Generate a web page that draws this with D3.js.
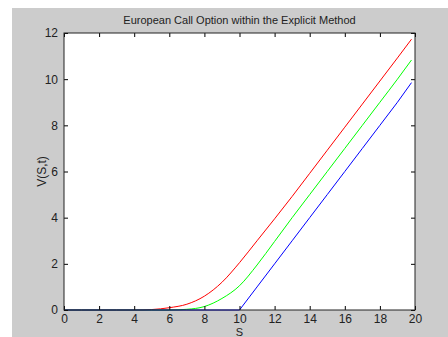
<!DOCTYPE html>
<html>
<head>
<meta charset="utf-8">
<script src="https://cdn.jsdelivr.net/npm/d3@7"></script>
<style>
  body { margin: 0; background: #fff; }
  svg { display: block; font-family: "Liberation Sans", Arial, sans-serif; }
</style>
</head>
<body>
<div id="chart"></div>
<script>
const sValues = [0, 1, 2, 3, 4, 5, 6, 7, 8, 9, 10, 11, 12, 13, 14, 15, 16, 17, 18, 19, 19.8];
const redValues = [0, 0, 0, 0, 0, 0.02, 0.1, 0.25, 0.6, 1.2, 2.05, 3.0, 3.95, 4.92, 5.92, 6.92, 7.92, 8.92, 9.92, 10.92, 11.73];
const greenValues = [0, 0, 0, 0, 0, 0, 0, 0.03, 0.15, 0.5, 1.05, 1.95, 2.97, 4.0, 5.0, 6.0, 7.0, 8.0, 9.0, 10.0, 10.83];
const blueValues = [0, 0, 0, 0, 0, 0, 0, 0, 0, 0, 0, 1.0, 2.0, 3.0, 4.0, 5.0, 6.0, 7.0, 8.0, 9.0, 9.85];
const xTicks = [0, 2, 4, 6, 8, 10, 12, 14, 16, 18, 20];
const yTicks = [0, 2, 4, 6, 8, 10, 12];

const series = [
  { name: "red", color: "#ff0000", values: redValues, curve: d3.curveMonotoneX },
  { name: "green", color: "#00ff00", values: greenValues, curve: d3.curveMonotoneX },
  { name: "blue", color: "#0000ff", values: blueValues, curve: d3.curveLinear }
];

const width = 448, height = 337;
const plot = { left: 64, right: 415, top: 33, bottom: 310 };

const svg = d3.select("#chart").append("svg")
  .attr("width", width)
  .attr("height", height);

// figure background
svg.append("rect")
  .attr("x", 12).attr("y", 8)
  .attr("width", width - 12).attr("height", height - 8)
  .attr("fill", "#cccccc");

svg.append("rect")
  .attr("x", plot.left).attr("y", plot.top)
  .attr("width", plot.right - plot.left).attr("height", plot.bottom - plot.top)
  .attr("fill", "#ffffff");

const x = d3.scaleLinear().domain([0, 20]).range([plot.left, plot.right]);
const y = d3.scaleLinear().domain([0, 12]).range([plot.bottom, plot.top]);

series.forEach((s) => {
  const line = d3.line()
    .x((d) => x(d[0]))
    .y((d) => y(d[1]))
    .curve(s.curve);
  svg.append("path")
    .datum(sValues.map((v, i) => [v, s.values[i]]))
    .attr("fill", "none")
    .attr("stroke", s.color)
    .attr("stroke-width", 1)
    .attr("d", line);
});

// axes with inward ticks, box around plot
const tickLen = 4;
const fontSize = "12px";
const font = "Liberation Sans, Arial, sans-serif";

svg.append("g")
  .attr("transform", `translate(0,${plot.bottom})`)
  .call(d3.axisBottom(x).tickValues(xTicks).tickSizeInner(-tickLen).tickSizeOuter(0).tickPadding(4))
  .call((g) => g.select(".domain").remove())
  .call((g) => g.selectAll("text").attr("font-size", fontSize).attr("fill", "#222").attr("font-family", font));

svg.append("g")
  .attr("transform", `translate(0,${plot.top})`)
  .call(d3.axisTop(x).tickValues(xTicks).tickSizeInner(-tickLen).tickSizeOuter(0).tickFormat(""))
  .call((g) => g.select(".domain").remove());

svg.append("g")
  .attr("transform", `translate(${plot.left},0)`)
  .call(d3.axisLeft(y).tickValues(yTicks).tickSizeInner(-tickLen).tickSizeOuter(0).tickPadding(6))
  .call((g) => g.select(".domain").remove())
  .call((g) => g.selectAll("text").attr("font-size", fontSize).attr("fill", "#222").attr("font-family", font));

svg.append("g")
  .attr("transform", `translate(${plot.right},0)`)
  .call(d3.axisRight(y).tickValues(yTicks).tickSizeInner(-tickLen).tickSizeOuter(0).tickFormat(""))
  .call((g) => g.select(".domain").remove());

svg.append("rect")
  .attr("x", plot.left).attr("y", plot.top)
  .attr("width", plot.right - plot.left).attr("height", plot.bottom - plot.top)
  .attr("fill", "none")
  .attr("stroke", "#222")
  .attr("stroke-width", 1);

svg.append("text")
  .attr("x", (plot.left + plot.right) / 2)
  .attr("y", 21)
  .attr("text-anchor", "middle")
  .attr("dominant-baseline", "middle")
  .attr("font-size", "11px")
  .attr("fill", "#222")
  .text("European Call Option within the Explicit Method");

svg.append("text")
  .attr("x", (plot.left + plot.right) / 2)
  .attr("y", 336)
  .attr("text-anchor", "middle")
  .attr("font-size", "11px")
  .attr("fill", "#222")
  .text("S");

svg.append("text")
  .attr("transform", `translate(43,${(plot.top + plot.bottom) / 2}) rotate(-90)`)
  .attr("text-anchor", "middle")
  .attr("dominant-baseline", "middle")
  .attr("font-size", fontSize)
  .attr("fill", "#222")
  .text("V(S,t)");
</script>
</body>
</html>
